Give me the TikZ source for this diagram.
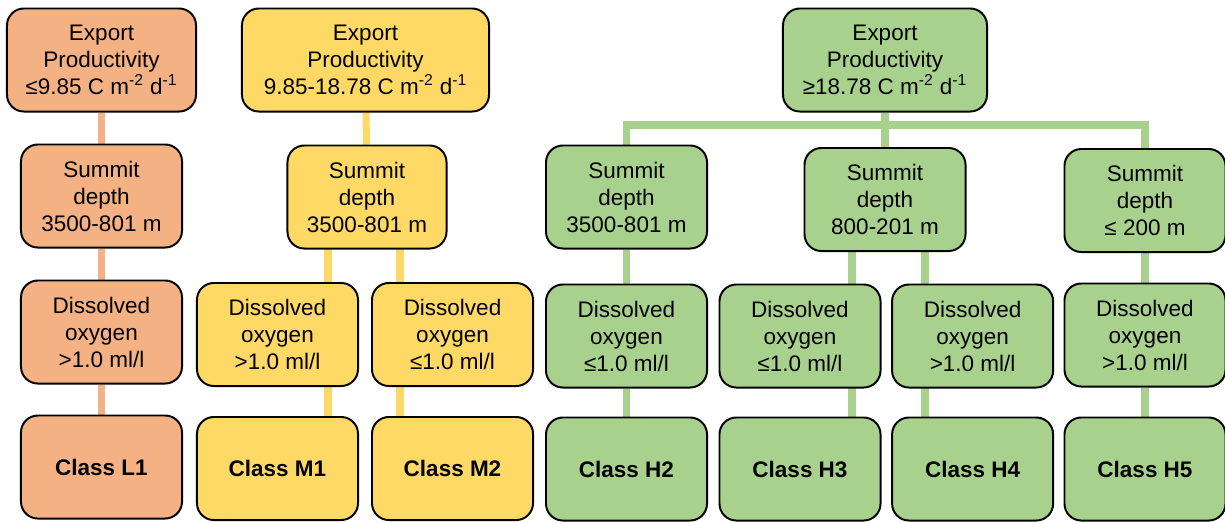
\documentclass[tikz,border=0pt]{standalone}
\usepackage{fontspec}
\setmainfont{Liberation Sans}
\usetikzlibrary{positioning, backgrounds}
\definecolor{myorange}{RGB}{244,177,131}
\definecolor{myyellow}{RGB}{255,217,102}
\definecolor{mygreen}{RGB}{169,209,142}
\tikzset{
  box/.style={rectangle, draw=black, line width=1.4pt, rounded corners=12pt,
    align=center, minimum width=4.025cm, minimum height=2.575cm, inner sep=0pt,
    font=\fontsize{16}{19.2}\selectfont},
  obox/.style={box, fill=myorange},
  ybox/.style={box, fill=myyellow},
  gbox/.style={box, fill=mygreen},
  classbox/.style={font=\fontsize{16}{19.2}\selectfont\bfseries},
  oline/.style={line width=5pt, color=myorange},
  yline/.style={line width=5pt, color=myyellow},
  gline/.style={line width=5pt, color=mygreen}
}

\begin{document}
\begin{tikzpicture}[x=0.025cm, y=-0.025cm, node distance=0.775cm]
\useasboundingbox (0,0) rectangle (1225,522);

% low productivity
\node[obox, minimum width=4.725cm] (exportL) at (101.5,60) {Export\\Productivity\\≤9.85 C m\textsuperscript{-2} d\textsuperscript{-1}};
\node[obox, below=of exportL] (summitL) {Summit\\depth\\3500-801 m};
\node[obox, below=of summitL] (dissL) {Dissolved\\oxygen\\>1.0 ml/l};
\node[obox, classbox, below=0.75cm of dissL] (classL1) {Class L1};

% medium productivity
\node[ybox, minimum width=6.175cm] (exportM) at (365.5,60) {Export\\Productivity\\9.85-18.78 C m\textsuperscript{-2} d\textsuperscript{-1}};
\node[ybox, minimum width=3.975cm] (summitM) at (367,197) {Summit\\depth\\3500-801 m};
\node[ybox] (dissM1) at (277.5,334.5) {Dissolved\\oxygen\\>1.0 ml/l};
\node[ybox, right=0.3cm of dissM1] (dissM2) {Dissolved\\oxygen\\≤1.0 ml/l};
\node[ybox, classbox, below=0.725cm of dissM1] (classM1) {Class M1};
\node[ybox, classbox, below=0.725cm of dissM2] (classM2) {Class M2};

% high productivity
\node[gbox, minimum width=5.1cm] (exportH) at (885,60) {Export\\Productivity\\≥18.78 C m\textsuperscript{-2} d\textsuperscript{-1}};
\node[gbox] (summitH2) at (626.5,197) {Summit\\depth\\3500-801 m};
\node[gbox] (summitH3) at (885,199.5) {Summit\\depth\\800-201 m};
\node[gbox] (summitH5) at (1145,200.5) {Summit\\depth\\≤ 200 m};
\node[gbox] (dissH2) at (626.5,336) {Dissolved\\oxygen\\≤1.0 ml/l};
\node[gbox] (dissH3) at (800,336) {Dissolved\\oxygen\\≤1.0 ml/l};
\node[gbox, right=0.24cm of dissH3] (dissH4) {Dissolved\\oxygen\\>1.0 ml/l};
\node[gbox] (dissH5) at (1145,335) {Dissolved\\oxygen\\>1.0 ml/l};
\node[gbox, classbox, below=0.7cm of dissH2] (classH2) {Class H2};
\node[gbox, classbox, below=0.7cm of dissH3] (classH3) {Class H3};
\node[gbox, classbox, below=0.7cm of dissH4] (classH4) {Class H4};
\node[gbox, classbox, below=0.725cm of dissH5] (classH5) {Class H5};

\coordinate (ym1) at (328,0);
\coordinate (ym2) at (400,0);
\coordinate (gh3) at (852,0);
\coordinate (gh4) at (925,0);
\coordinate (bus) at (885,125);

\begin{scope}[on background layer]
\draw[oline] (exportL) -- (summitL);
\draw[oline] (summitL) -- (dissL);
\draw[oline] (dissL) -- (classL1);

\draw[yline] (exportM) -- (summitM);
\draw[yline] (ym1 |- summitM) -- (ym1 |- dissM1);
\draw[yline] (ym2 |- summitM) -- (ym2 |- dissM2);
\draw[yline] (ym1 |- dissM1) -- (ym1 |- classM1);
\draw[yline] (ym2 |- dissM2) -- (ym2 |- classM2);

\draw[gline] (summitH2) |- (bus) -| (summitH5);
\draw[gline] (exportH) -- (summitH3);
\draw[gline] (summitH2) -- (dissH2);
\draw[gline] (gh3 |- summitH3) -- (gh3 |- dissH3);
\draw[gline] (gh4 |- summitH3) -- (gh4 |- dissH4);
\draw[gline] (summitH5) -- (dissH5);
\draw[gline] (dissH2) -- (classH2);
\draw[gline] (gh3 |- dissH3) -- (gh3 |- classH3);
\draw[gline] (gh4 |- dissH4) -- (gh4 |- classH4);
\draw[gline] (dissH5) -- (classH5);
\end{scope}
\end{tikzpicture}
\end{document}
